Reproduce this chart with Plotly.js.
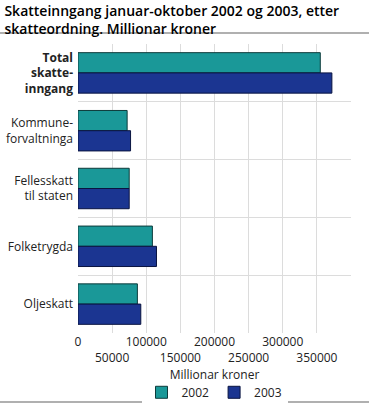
<!DOCTYPE html>
<html><head><meta charset="utf-8">
<script src="https://cdn.plot.ly/plotly-3.0.1.min.js"></script>
<style>body{margin:0;padding:0;background:#fff}#chart{width:369px;height:404px}</style>
</head><body><div id="chart"></div>
<script>
const categories = ["<b>Total<br>skatte-<br>inngang</b>", "Kommune-<br>forvaltninga", "Fellesskatt<br>til staten", "Folketrygda", "Oljeskatt"];
const values2002 = [355000, 72000, 75000, 109000, 87000];
const values2003 = [372000, 77000, 75000, 115000, 92000];
const seriesNames = ["2002", "2003"];
const tickVals = [0, 50000, 100000, 150000, 200000, 250000, 300000, 350000, 400000];
const tickText = ["0", "<br>50000", "100000", "<br>150000", "200000", "<br>250000", "300000", "<br>350000", "400000"];

const font = {family: "Open Sans, sans-serif", size: 12, color: "#222"};
const traces = [
  {type: "bar", orientation: "h", name: seriesNames[0], y: categories, x: values2002,
   marker: {color: "#1a9898", line: {color: "#0d3b3b", width: 1}}},
  {type: "bar", orientation: "h", name: seriesNames[1], y: categories, x: values2003,
   marker: {color: "#1b3591", line: {color: "#0a1440", width: 1}}}
];
const layout = {
  width: 369, height: 404,
  margin: {l: 78, r: 18, t: 44, b: 71, autoexpand: false},
  paper_bgcolor: "#fff", plot_bgcolor: "#fff",
  font: font,
  barmode: "group", bargap: 0.3, bargroupgap: 0,
  title: {text: "Skatteinngang januar-oktober 2002 og 2003, etter<br>skatteordning. Millionar kroner",
          x: 0.012, xanchor: "left", yref: "container", y: 0.96, yanchor: "middle",
          font: {family: "Open Sans, sans-serif", size: 14, color: "#000", weight: 600}},
  xaxis: {range: [0, 400000], tickvals: tickVals, ticktext: tickText, tickangle: 0, automargin: false,
          showgrid: true, gridcolor: "#dcdcdc", gridwidth: 1, zeroline: false, showline: false, ticks: "",
          title: {text: "Millionar kroner", font: {size: 12}, standoff: 0},
          tickfont: {size: 12, color: "#222"}},
  yaxis: {autorange: "reversed", tickson: "boundaries", showgrid: true, gridcolor: "#dcdcdc",
          gridwidth: 1, ticks: "", showline: false, tickfont: {size: 12, color: "#222"},
          automargin: false, ticklabelstandoff: 4},
  legend: {orientation: "h", x: 0.5, xanchor: "center", y: -0.155, yanchor: "top",
           font: {size: 12}, itemwidth: 30, traceorder: "normal"},
  shapes: [
    {type: "line", xref: "paper", yref: "paper", x0: -0.3, x1: 1.1, y0: 1.038, y1: 1.038,
     line: {color: "#b0b0b0", width: 2}},
    {type: "line", xref: "paper", yref: "paper", x0: -0.3, x1: 1.1, y0: -0.239, y1: -0.239,
     line: {color: "#b0b0b0", width: 2}}
  ]
};
Plotly.newPlot("chart", traces, layout, {displayModeBar: false, staticPlot: true});
</script></body></html>
